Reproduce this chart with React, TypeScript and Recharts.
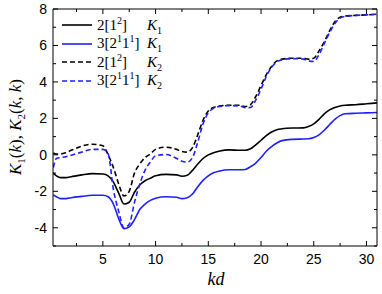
import { LineChart, Line, XAxis, YAxis, Label } from 'recharts';

const kd = [0.3, 0.6, 1, 1.5, 2, 3, 4, 5, 5.5, 6, 6.5, 7, 7.5, 8, 8.5, 9, 9.5, 10, 11, 12, 12.5, 13, 13.5, 14, 14.5, 15, 15.5, 16, 17, 18, 18.5, 19, 19.5, 20, 20.5, 21, 21.5, 22, 23, 24, 24.5, 25, 25.5, 26, 26.5, 27, 27.5, 28, 29, 30, 31];

// 2[1^2] K1
const k1Two = [-1.0, -1.15, -1.25, -1.25, -1.2, -1.1, -1.03, -1.05, -1.15, -1.5, -2.1, -2.7, -2.6, -2.05, -1.65, -1.42, -1.28, -1.15, -1.07, -1.1, -1.17, -1.12, -0.85, -0.5, -0.2, 0.0, 0.12, 0.2, 0.27, 0.25, 0.25, 0.33, 0.55, 0.8, 1.05, 1.25, 1.38, 1.43, 1.47, 1.48, 1.55, 1.7, 1.95, 2.25, 2.47, 2.6, 2.68, 2.72, 2.75, 2.8, 2.85];
// 3[2^1 1^1] K1
const k1Three = [-2.2, -2.3, -2.4, -2.4, -2.35, -2.28, -2.22, -2.22, -2.3, -2.7, -3.5, -4.05, -3.95, -3.55, -3.0, -2.7, -2.5, -2.38, -2.3, -2.33, -2.4, -2.35, -2.15, -1.75, -1.4, -1.15, -0.98, -0.9, -0.82, -0.82, -0.8, -0.65, -0.45, -0.15, 0.2, 0.45, 0.65, 0.78, 0.85, 0.87, 0.88, 0.95, 1.1, 1.35, 1.65, 1.95, 2.15, 2.25, 2.28, 2.3, 2.32];
// 2[1^2] K2
const k2Two = [0.1, 0.05, 0.05, 0.12, 0.25, 0.48, 0.58, 0.5, 0.0, -0.7, -1.6, -2.25, -2.0, -1.0, -0.5, -0.15, 0.05, 0.3, 0.42, 0.3, 0.18, 0.15, 0.4, 1.1, 1.9, 2.4, 2.6, 2.68, 2.72, 2.72, 2.65, 2.75, 3.2, 3.8, 4.4, 4.85, 5.15, 5.25, 5.3, 5.3, 5.25, 5.3, 5.7, 6.2, 6.8, 7.3, 7.55, 7.62, 7.65, 7.68, 7.7];
// 3[2^1 1^1] K2
const k2Three = [-0.7, -0.2, -0.15, -0.1, -0.02, 0.15, 0.3, 0.3, 0.05, -1.9, -3.1, -4.0, -3.8, -2.6, -1.6, -0.85, -0.4, -0.05, 0.02, -0.2, -0.35, -0.4, -0.15, 0.7, 1.7, 2.3, 2.55, 2.65, 2.7, 2.68, 2.58, 2.6, 3.0, 3.6, 4.3, 4.8, 5.1, 5.22, 5.28, 5.25, 5.15, 5.12, 5.5, 6.1, 6.7, 7.2, 7.5, 7.6, 7.65, 7.68, 7.72];

const xTicks = [2.5, 5, 7.5, 10, 12.5, 15, 17.5, 20, 22.5, 25, 27.5, 30];
const yTicks = [-5, -4, -3, -2, -1, 0, 1, 2, 3, 4, 5, 6, 7, 8];

const data = kd.map((x, i) => ({ x, a: k1Two[i], b: k1Three[i], c: k2Two[i], d: k2Three[i] }));

const BLUE = '#1f1fff';
const tickFont = { fontFamily: 'Liberation Sans, Arial, sans-serif', fontSize: 14, fill: '#000' };

const BottomTick = (p: any) => {
  const v = p.payload.value;
  const major = v % 5 === 0;
  return (
    <g>
      <line x1={p.x} x2={p.x} y1={p.y} y2={p.y - (major ? 5 : 3)} stroke="#000" />
      {major && <text x={p.x} y={p.y + 18} textAnchor="middle" {...tickFont}>{v}</text>}
    </g>
  );
};
const TopTick = (p: any) => {
  const major = p.payload.value % 5 === 0;
  return <line x1={p.x} x2={p.x} y1={p.y} y2={p.y + (major ? 5 : 3)} stroke="#000" />;
};
const LeftTick = (p: any) => {
  const v = p.payload.value;
  const major = v % 2 === 0;
  return (
    <g>
      <line x1={p.x} x2={p.x + (major ? 5 : 3)} y1={p.y} y2={p.y} stroke="#000" />
      {major && <text x={p.x - 6} y={p.y + 5} textAnchor="end" {...tickFont}>{v}</text>}
    </g>
  );
};
const RightTick = (p: any) => {
  const major = p.payload.value % 2 === 0;
  return <line x1={p.x} x2={p.x - (major ? 5 : 3)} y1={p.y} y2={p.y} stroke="#000" />;
};

const legendRows = [
  { color: '#000', dash: undefined, three: false, k: '1' },
  { color: BLUE, dash: undefined, three: true, k: '1' },
  { color: '#000', dash: '5 3', three: false, k: '2' },
  { color: BLUE, dash: '5 3', three: true, k: '2' },
];

const supStyle = { fontSize: 10, verticalAlign: 'super', lineHeight: 0 };

const MyLegend = () => (
  <div style={{ position: 'absolute', left: 61, top: 16, fontFamily: 'Liberation Serif, serif', fontSize: 15, color: '#000' }}>
    {legendRows.map((r, i) => (
      <div key={i} style={{ display: 'flex', alignItems: 'center', height: 18.5 }}>
        <svg width={32} height={10} style={{ marginRight: 4 }}>
          <line x1={1} x2={31} y1={5} y2={5} stroke={r.color} strokeWidth={1.6} strokeDasharray={r.dash} />
        </svg>
        <span style={{ width: 50, display: 'inline-block' }}>
          {r.three ? (
            <>3[2<span style={supStyle}>1</span>1<span style={supStyle}>1</span>]</>
          ) : (
            <>2[1<span style={supStyle}>2</span>]</>
          )}
        </span>
        <span><i>K</i><span style={{ fontSize: 10, verticalAlign: 'sub', lineHeight: 0 }}>{r.k}</span></span>
      </div>
    ))}
  </div>
);

export default function App() {
  return (
    <div style={{ position: 'absolute', left: 0, top: 0, width: 382, height: 294, background: '#fff' }}>
      <LineChart width={382} height={294} data={data} margin={{ top: 8, right: 4, bottom: 0, left: 0 }}>
        <XAxis dataKey="x" type="number" domain={[0.27, 31]} allowDataOverflow ticks={xTicks} interval={0}
          tickSize={0} tickMargin={0} tick={BottomTick} height={48} stroke="#000" tickLine={false}>
          <Label content={() => (
            <text x={216} y={285} textAnchor="middle" fontFamily="Liberation Serif, serif" fontStyle="italic" fontSize={18}>kd</text>
          )} />
        </XAxis>
        <XAxis xAxisId="top" dataKey="x" orientation="top" type="number" domain={[0.27, 31]} allowDataOverflow ticks={xTicks}
          interval={0} tickSize={0} tickMargin={0} tick={TopTick} height={1} stroke="#000" tickLine={false} />
        <YAxis type="number" domain={[-5, 8]} ticks={yTicks} interval={0} tickSize={0} tickMargin={0}
          tick={LeftTick} width={53} stroke="#000" tickLine={false}>
          <Label content={() => (
            <text transform="translate(21,127) rotate(-90)" textAnchor="middle" fontFamily="Liberation Serif, serif" fontSize={17}>
              <tspan fontStyle="italic">K</tspan><tspan fontSize={11} dy={4}>1</tspan>
              <tspan dy={-4}>(</tspan><tspan fontStyle="italic">k</tspan><tspan>),  </tspan>
              <tspan fontStyle="italic">K</tspan><tspan fontSize={11} dy={4}>2</tspan>
              <tspan dy={-4}>(</tspan><tspan fontStyle="italic">k</tspan><tspan>, </tspan><tspan fontStyle="italic">k</tspan><tspan>)</tspan>
            </text>
          )} />
        </YAxis>
        <YAxis yAxisId="right" orientation="right" type="number" domain={[-5, 8]} ticks={yTicks} interval={0}
          tickSize={0} tickMargin={0} tick={RightTick} width={1} stroke="#000" tickLine={false} />
        <Line dataKey="a" type="monotone" stroke="#000" strokeWidth={1.6} dot={false} isAnimationActive={false} />
        <Line dataKey="b" type="monotone" stroke={BLUE} strokeWidth={1.6} dot={false} isAnimationActive={false} />
        <Line xAxisId="top" yAxisId="right" dataKey="c" type="monotone" stroke="#000" strokeWidth={1.6} strokeDasharray="5 3" dot={false} isAnimationActive={false} />
        <Line xAxisId="top" yAxisId="right" dataKey="d" type="monotone" stroke={BLUE} strokeWidth={1.6} strokeDasharray="5 3" dot={false} isAnimationActive={false} />
      </LineChart>
      <MyLegend />
    </div>
  );
}
